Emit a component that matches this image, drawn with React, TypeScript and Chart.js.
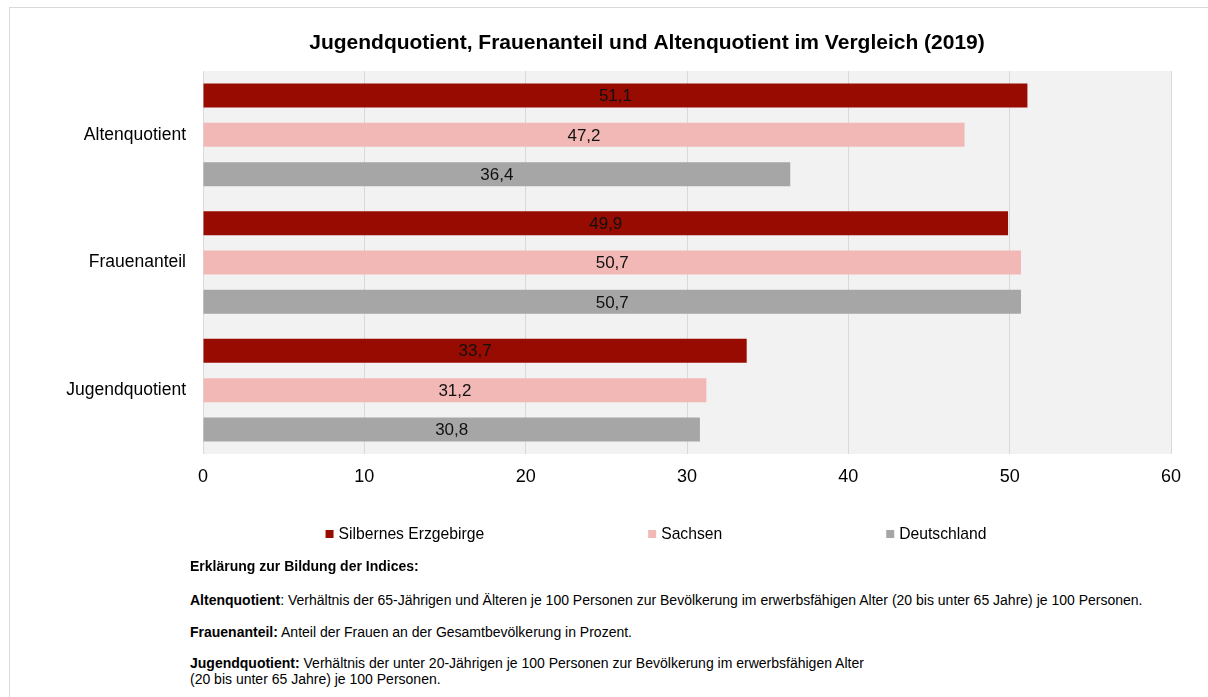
import React, { useEffect, useRef } from "react";
import { Chart, registerables } from "chart.js";

Chart.register(...registerables);

const FONT = '"Liberation Sans", Arial, sans-serif';

const chartTitle = "Jugendquotient, Frauenanteil und Altenquotient im Vergleich (2019)";
const categories = ["Altenquotient", "Frauenanteil", "Jugendquotient"];
const seriesNames = ["Silbernes Erzgebirge", "Sachsen", "Deutschland"];
const erzgebirgeValues = [51.1, 49.9, 33.7];
const sachsenValues = [47.2, 50.7, 31.2];
const deutschlandValues = [36.4, 50.7, 30.8];
const xTickValues = [0, 10, 20, 30, 40, 50, 60];
const seriesColors = ["#980B00", "#F2B8B5", "#A6A6A6"];

const fmt = (v: number) => v.toFixed(1).replace(".", ",");

const plotBackground = {
  id: "plotBackground",
  beforeDraw(chart: any) {
    const { ctx, chartArea } = chart;
    ctx.save();
    ctx.fillStyle = "#F2F2F2";
    ctx.fillRect(chartArea.left, chartArea.top, chartArea.right - chartArea.left, chartArea.bottom - chartArea.top);
    ctx.restore();
  },
};

const titlePlugin = {
  id: "titlePlugin",
  afterDraw(chart: any) {
    const { ctx } = chart;
    ctx.save();
    ctx.font = `bold 21px ${FONT}`;
    ctx.fillStyle = "#000000";
    ctx.textAlign = "center";
    ctx.textBaseline = "middle";
    ctx.fillText(chartTitle, 647, 43);
    ctx.restore();
  },
};

const valueLabels = {
  id: "valueLabels",
  afterDatasetsDraw(chart: any) {
    const { ctx } = chart;
    ctx.save();
    ctx.font = `17px ${FONT}`;
    ctx.fillStyle = "#111111";
    ctx.textAlign = "center";
    ctx.textBaseline = "middle";
    chart.data.datasets.forEach((ds: any, i: number) => {
      const meta = chart.getDatasetMeta(i);
      meta.data.forEach((bar: any, j: number) => {
        const { x, y, base } = bar.getProps(["x", "y", "base"], true);
        ctx.fillText(fmt(ds.data[j]), (x + base) / 2, y + 1);
      });
    });
    ctx.restore();
  },
};

const bottomLegend = {
  id: "bottomLegend",
  afterDraw(chart: any) {
    const { ctx } = chart;
    const y = 534;
    const box = 8;
    const boxGap = 5;
    const gap = 164;
    const centerX = 656;
    ctx.save();
    ctx.font = `15.7px ${FONT}`;
    ctx.textBaseline = "middle";
    ctx.textAlign = "left";
    const items = chart.data.datasets.map((ds: any) => ({
      text: ds.label,
      color: ds.backgroundColor,
      w: box + boxGap + ctx.measureText(ds.label).width,
    }));
    const total = items.reduce((s: number, it: any) => s + it.w, 0) + gap * (items.length - 1);
    let x = centerX - total / 2;
    items.forEach((it: any) => {
      ctx.fillStyle = it.color;
      ctx.fillRect(x, y - box / 2, box, box);
      ctx.fillStyle = "#000000";
      ctx.fillText(it.text, x + box + boxGap, y + 1);
      x += it.w + gap;
    });
    ctx.restore();
  },
};

export default function App() {
  const canvasRef = useRef<HTMLCanvasElement | null>(null);

  useEffect(() => {
    if (!canvasRef.current) return;
    Chart.defaults.font.family = FONT;
    const chart = new Chart(canvasRef.current, {
      type: "bar",
      data: {
        labels: categories,
        datasets: [
          { label: seriesNames[0], data: erzgebirgeValues, backgroundColor: seriesColors[0] },
          { label: seriesNames[1], data: sachsenValues, backgroundColor: seriesColors[1] },
          { label: seriesNames[2], data: deutschlandValues, backgroundColor: seriesColors[2] },
        ],
      },
      options: {
        indexAxis: "y",
        animation: false,
        responsive: false,
        devicePixelRatio: 1,
        datasets: { bar: { categoryPercentage: 0.925, barPercentage: 0.61 } },
        layout: { padding: { left: 0, right: 37, top: 71, bottom: 75 } },
        plugins: {
          legend: { display: false },
          tooltip: { enabled: false },
          title: { display: false },
        },
        scales: {
          x: {
            min: 0,
            max: 60,
            afterBuildTicks: (scale: any) => {
              scale.ticks = xTickValues.map((v) => ({ value: v }));
            },
            afterFit: (scale: any) => {
              scale.height = 31;
            },
            ticks: { color: "#000000", font: { family: FONT, size: 18 }, padding: 12 },
            grid: { color: "#D9D9D9", lineWidth: 1, drawTicks: false },
            border: { display: false },
          },
          y: {
            ticks: { color: "#000000", font: { family: FONT, size: 17.5 }, padding: 17 },
            grid: { display: false, drawTicks: false },
            border: { display: false },
            afterFit: (scale: any) => {
              scale.width = 203;
            },
          },
        },
      } as any,
      plugins: [plotBackground, valueLabels, bottomLegend, titlePlugin],
    });
    return () => chart.destroy();
  }, []);

  const textStyle: React.CSSProperties = {
    position: "absolute",
    left: 190,
    fontFamily: FONT,
    fontSize: 14,
    lineHeight: "16px",
    color: "#000000",
    whiteSpace: "nowrap",
  };

  return (
    <div style={{ position: "fixed", left: 0, top: 0, width: 1208, height: 697, overflow: "hidden", background: "#ffffff" }}>
      <div style={{ position: "absolute", left: 9, top: 7, width: 1260, height: 760, border: "1px solid #D9D9D9", boxSizing: "border-box" }} />
      <canvas ref={canvasRef} width={1208} height={560} style={{ position: "absolute", left: 0, top: 0, width: 1208, height: 560 }} />
      <div style={{ ...textStyle, top: 558 }}>
        <b>Erklärung zur Bildung der Indices:</b>
      </div>
      <div style={{ ...textStyle, top: 592 }}>
        <b>Altenquotient</b>: Verhältnis der 65-Jährigen und Älteren je 100 Personen zur Bevölkerung im erwerbsfähigen Alter (20 bis unter 65 Jahre) je 100 Personen.
      </div>
      <div style={{ ...textStyle, top: 624 }}>
        <b>Frauenanteil:</b> Anteil der Frauen an der Gesamtbevölkerung in Prozent.
      </div>
      <div style={{ ...textStyle, top: 655 }}>
        <b>Jugendquotient:</b> Verhältnis der unter 20-Jährigen je 100 Personen zur Bevölkerung im erwerbsfähigen Alter
        <br />
        (20 bis unter 65 Jahre) je 100 Personen.
      </div>
    </div>
  );
}
